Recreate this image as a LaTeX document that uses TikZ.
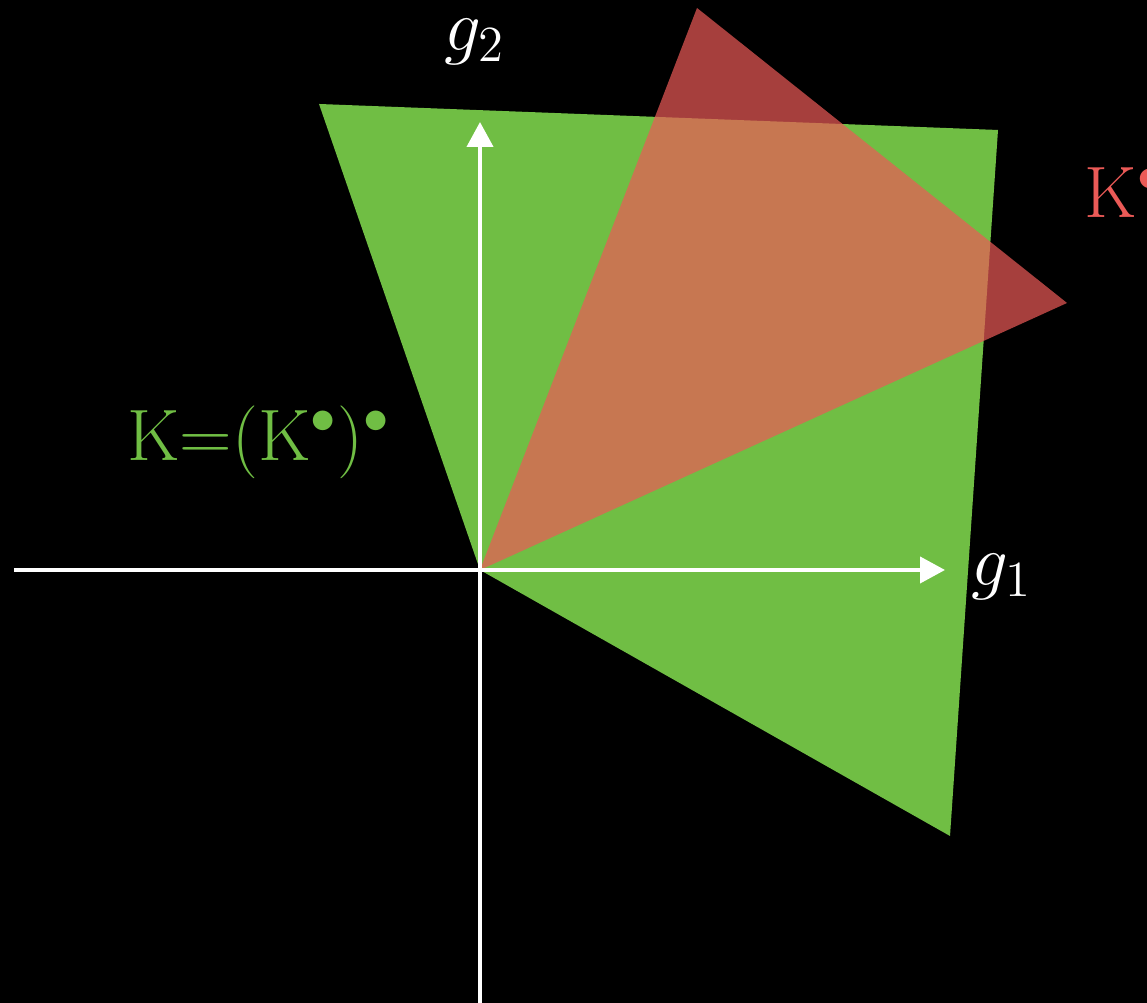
\documentclass[tikz,border=0pt]{standalone}
\usepackage{amsmath,amssymb}
\usepackage{tikz}
\usetikzlibrary{arrows.meta, positioning}
\usepackage{xcolor}
\definecolor{cGreen}{RGB}{112,190,68}
\definecolor{cRed}{RGB}{235,90,87}
\tikzset{
  axis/.style={-{Triangle[length=0.25cm, width=0.26cm]}, line width=0.04cm, color=white},
  conelabel/.style={font=\fontsize{21}{25}\selectfont, inner sep=0pt},
  axislabel/.style={font=\fontsize{20}{24}\selectfont, text=white, inner sep=0pt}
}
\begin{document}
\begin{tikzpicture}
  % Background
  \fill[black] (-4.80,-4.33) rectangle (6.67,5.70);
  \useasboundingbox (-4.80,-4.33) rectangle (6.67,5.70);

  % Cone K and its dual
  \coordinate (O) at (0,0);
  \fill[cGreen] (O) -- (-1.61,4.66) -- (5.18,4.40) -- (4.70,-2.66) -- cycle;
  \fill[cRed, opacity=0.71] (O) -- (2.17,5.62) -- (5.87,2.67) -- cycle;

  % Axes
  \coordinate (xl) at (-4.66,0);
  \coordinate (xr) at (4.65,0);
  \coordinate (yb) at (0,-4.40);
  \coordinate (yt) at (0,4.48);
  \draw[axis] (xl) -- (xr);
  \draw[axis] (yb) -- (yt);
  \node[axislabel] (g1) at (5.22,-0.07) {$g_1$};
  \node[axislabel] (g2) at (-0.05,5.28) {$g_2$};

  % Labels
  \node[conelabel, text=cRed, anchor=west] (Kdual) at (6.04,3.77) {$\mathrm{K}^{\bullet}$};
  \node[conelabel, text=cGreen] (Kbidual) at (-2.21,1.28) {$\mathrm{K}{=}(\mathrm{K}^{\bullet})^{\bullet}$};
\end{tikzpicture}
\end{document}
